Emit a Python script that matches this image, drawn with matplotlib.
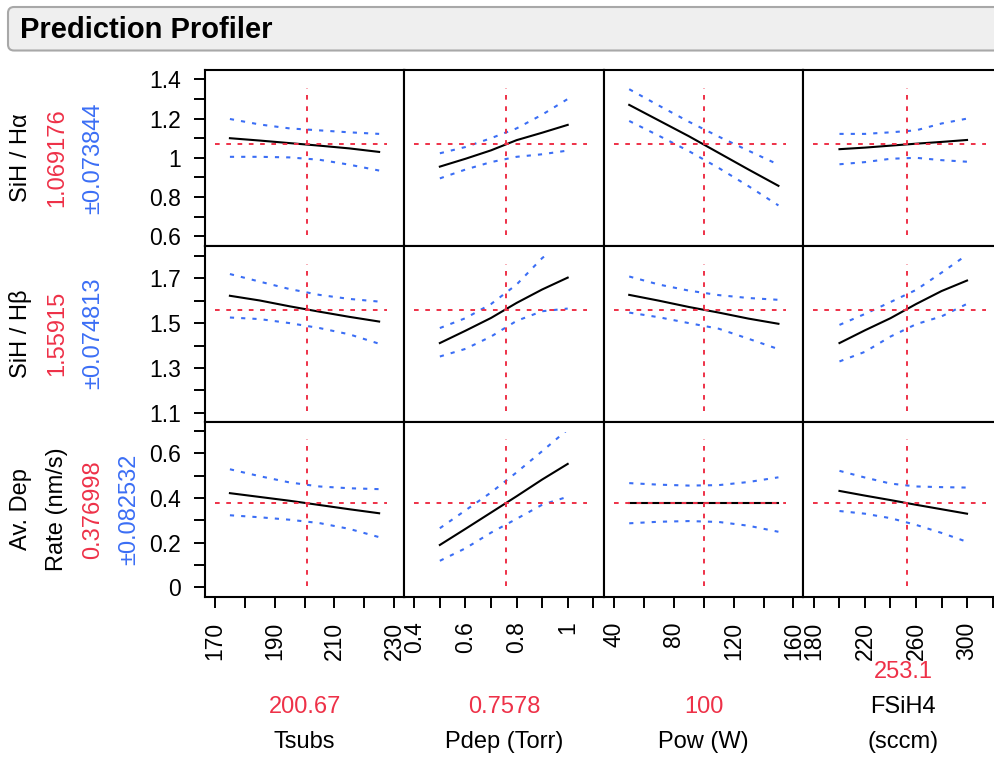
import numpy as np
import matplotlib.pyplot as plt
from matplotlib.patches import FancyBboxPatch, Rectangle

plt.rcParams['font.family'] = ['Liberation Sans', 'DejaVu Sans']

# Factores y respuestas del perfilador
factores = ["Tsubs", "Pdep (Torr)", "Pow (W)", "FSiH4\n(sccm)"]
respuestas = ["SiH / Hα", "SiH / Hβ", "Av. Dep\nRate (nm/s)"]

# Punto actual de los factores y predicción en ese punto
x_actual = [200.67, 0.7578, 100, 253.1]
y_actual = [1.069176, 1.55915, 0.376998]
y_error = [0.073844, 0.074813, 0.082532]

# Valores de cada factor donde se evalúan las curvas
x_tsubs = [175, 185, 195, 205, 215, 225]
x_pdep = [0.5, 0.6, 0.7, 0.8, 0.9, 1.0]
x_pow = [50, 70, 90, 110, 130, 150]
x_fsih4 = [200, 220, 240, 260, 280, 300]

# SiH / Hα (un renglón por factor)
ha_pred = [[1.100, 1.088, 1.075, 1.062, 1.048, 1.030],
           [0.955, 0.995, 1.038, 1.090, 1.128, 1.168],
           [1.270, 1.190, 1.110, 1.025, 0.940, 0.857],
           [1.044, 1.052, 1.062, 1.072, 1.081, 1.091]]
ha_sup = [[1.198, 1.170, 1.150, 1.140, 1.130, 1.122],
          [1.023, 1.055, 1.100, 1.150, 1.220, 1.300],
          [1.350, 1.266, 1.184, 1.108, 1.036, 0.965],
          [1.122, 1.122, 1.130, 1.140, 1.175, 1.200]]
ha_inf = [[1.005, 1.005, 1.002, 0.990, 0.965, 0.935],
          [0.895, 0.940, 0.978, 1.005, 1.018, 1.037],
          [1.188, 1.112, 1.034, 0.948, 0.855, 0.757],
          [0.967, 0.978, 0.995, 1.000, 0.988, 0.980]]

# SiH / Hβ
hb_pred = [[1.622, 1.601, 1.575, 1.551, 1.528, 1.507],
           [1.411, 1.466, 1.523, 1.590, 1.650, 1.703],
           [1.626, 1.600, 1.572, 1.547, 1.520, 1.497],
           [1.411, 1.468, 1.522, 1.585, 1.643, 1.690]]
hb_sup = [[1.719, 1.685, 1.652, 1.626, 1.608, 1.596],
          [1.478, 1.522, 1.585, 1.672, 1.790, 1.880],
          [1.708, 1.672, 1.645, 1.625, 1.612, 1.604],
          [1.492, 1.541, 1.594, 1.648, 1.725, 1.805]]
hb_inf = [[1.525, 1.518, 1.500, 1.478, 1.450, 1.408],
          [1.351, 1.385, 1.440, 1.510, 1.553, 1.565],
          [1.547, 1.526, 1.500, 1.475, 1.430, 1.384],
          [1.329, 1.372, 1.440, 1.495, 1.530, 1.586]]

# Av. Dep Rate
dep_pred = [[0.422, 0.405, 0.388, 0.369, 0.350, 0.332],
            [0.190, 0.262, 0.335, 0.408, 0.483, 0.553],
            [0.377, 0.377, 0.377, 0.377, 0.377, 0.377],
            [0.432, 0.411, 0.391, 0.370, 0.350, 0.330]]
dep_sup = [[0.529, 0.498, 0.470, 0.452, 0.444, 0.440],
           [0.265, 0.345, 0.425, 0.515, 0.610, 0.707],
           [0.467, 0.460, 0.456, 0.458, 0.472, 0.493],
           [0.522, 0.492, 0.465, 0.452, 0.449, 0.447]]
dep_inf = [[0.323, 0.314, 0.303, 0.288, 0.262, 0.225],
           [0.119, 0.175, 0.245, 0.307, 0.370, 0.406],
           [0.287, 0.294, 0.297, 0.293, 0.276, 0.249],
           [0.342, 0.330, 0.310, 0.280, 0.244, 0.204]]

# Marcas de los ejes
ticks_x = [np.arange(170, 231, 10), np.round(np.arange(0.4, 1.11, 0.1), 1),
           np.arange(40, 161, 20), np.arange(180, 321, 20)]
etiq_x = [[170, 190, 210, 230], [0.4, 0.6, 0.8, 1], [40, 80, 120, 160], [180, 220, 260, 300]]
ticks_y = [np.round(np.arange(0.6, 1.41, 0.1), 1), np.round(np.arange(1.1, 1.81, 0.1), 1),
           np.round(np.arange(0.0, 0.71, 0.1), 1)]
etiq_y = [[0.6, 0.8, 1, 1.2, 1.4], [1.1, 1.3, 1.5, 1.7], [0, 0.2, 0.4, 0.6]]

lim_x = [(166.65, 233.5), (0.3617, 1.142), (33.1, 166.8), (171.8, 328.2)]
lim_y = [(0.551, 1.448), (1.061, 1.845), (-0.044, 0.743)]

xs = [x_tsubs, x_pdep, x_pow, x_fsih4]
curvas = [(ha_pred, ha_sup, ha_inf), (hb_pred, hb_sup, hb_inf), (dep_pred, dep_sup, dep_inf)]

ROJO = "#ee3148"
AZUL = "#3b6ef5"
W, H = 995, 758

fig = plt.figure(figsize=(W / 100, H / 100), dpi=100)

# Barra del título
barra = FancyBboxPatch((0.08, (H - 50.5) / 100), 11.0, 0.435,
                       boxstyle="round,pad=0,rounding_size=0.06",
                       transform=fig.dpi_scale_trans, facecolor="#efefef",
                       edgecolor="#a8a8a8", linewidth=1.5)
fig.add_artist(barra)
fig.text(20 / W, 1 - 30.5 / H, "Prediction Profiler", fontsize=21, fontweight="bold",
         ha="left", va="center")

col = [205, 404.5, 604, 803.5, 1003]
ren = [70, 245.8, 421.5, 597.2]


def etiquetas(ticks, con_texto):
    return [f"{t:g}" if any(np.isclose(t, e) for e in con_texto) else "" for t in ticks]


for i in range(3):
    for j in range(4):
        ax = fig.add_axes([col[j] / W, 1 - ren[i + 1] / H,
                           (col[j + 1] - col[j]) / W, (ren[i + 1] - ren[i]) / H])
        ax.set_xlim(lim_x[j])
        ax.set_ylim(lim_y[i])
        for s in ax.spines.values():
            s.set_linewidth(1.5)
        ax.tick_params(direction="out", length=8, width=1.4, labelsize=16.5, pad=9.5)

        if j == 0:
            ax.set_yticks(ticks_y[i])
            ax.set_yticklabels(etiquetas(ticks_y[i], etiq_y[i]))
        else:
            ax.set_yticks([])
        if i == 2:
            ax.set_xticks(ticks_x[j])
            ax.set_xticklabels(etiquetas(ticks_x[j], etiq_x[j]), rotation=90)
        else:
            ax.set_xticks([])

        # las curvas se recortan un poco antes del borde superior
        recorte = Rectangle((0, 0), 1, 0.94, transform=ax.transAxes)
        pred, sup, inf = curvas[i]
        for yy in (sup[j], inf[j]):
            l, = ax.plot(xs[j], yy, color=AZUL, lw=1.5, dashes=(2.0, 3.4))
            l.set_clip_path(recorte)
        l, = ax.plot(xs[j], pred[j], color="black", lw=1.5)
        l.set_clip_path(recorte)

        # cruz del valor actual
        ax.axhline(y_actual[i], xmin=0.05, xmax=0.913, color=ROJO, lw=1.4, dashes=(2.4, 3.4))
        ax.axvline(x_actual[j], ymin=0.0625, ymax=0.898, color=ROJO, lw=1.4, dashes=(2.4, 3.4))

# Etiquetas de las respuestas (a la izquierda, giradas)
for i in range(3):
    yc = 1 - (ren[i] + ren[i + 1]) / 2 / H
    textos = respuestas[i].split("\n")
    colores = ["black"] * len(textos) + [ROJO, AZUL]
    textos = textos + [str(y_actual[i]), "±" + str(y_error[i])]
    for k, (t, c) in enumerate(zip(textos, colores)):
        fig.text((21 + 36 * k) / W, yc, t, rotation=90, ha="center", va="center",
                 fontsize=17, color=c)

# Etiquetas de los factores (abajo)
for j in range(4):
    xc = (col[j] + col[j + 1]) / 2 / W
    lineas = factores[j].split("\n")
    for k, t in enumerate(lineas):
        fig.text(xc, 1 - (742 - 35 * (len(lineas) - 1 - k)) / H, t, ha="center", va="center",
                 fontsize=17)
    fig.text(xc, 1 - (742 - 35 * len(lineas)) / H, f"{x_actual[j]:g}", ha="center", va="center",
             fontsize=17, color=ROJO)

fig.savefig("out.png", dpi=100)
